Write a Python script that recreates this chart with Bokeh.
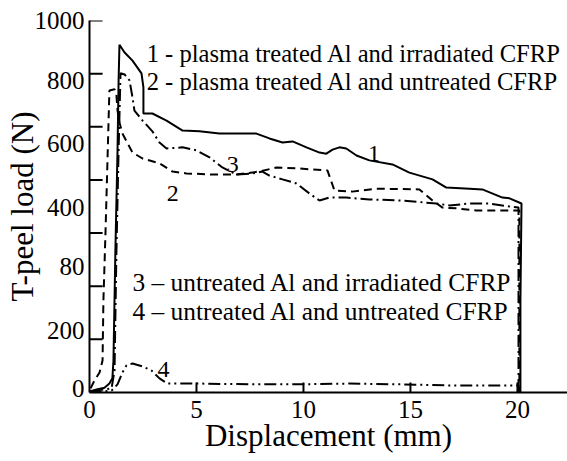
from bokeh.plotting import figure
from bokeh.models import FixedTicker, LinearAxis, Range1d
from bokeh.core.properties import value
from bokeh.embed import file_html
from bokeh.resources import INLINE

# ---- data (displacement mm, T-peel load on the plotted scale) ----
x1 = [0.0, 0.33, 0.7, 0.93, 1.07, 1.12, 1.21, 1.31, 1.36, 1.40, 1.64, 2.01, 2.43, 2.52, 2.52, 2.94, 3.60,
      4.35, 5.14, 6.07, 7.80, 8.41, 9.02, 9.49, 10.14, 10.75, 11.07, 11.36, 11.68, 12.0, 12.48, 13.08,
      14.16, 14.95, 16.03, 16.68, 17.76, 18.36, 19.30, 19.63, 20.19, 20.14, 20.14]
y1 = [3, 8, 13, 24, 38, 86, 382, 651, 839, 935, 914, 892, 858, 820, 750, 750, 731,
      704, 702, 696, 696, 683, 672, 675, 659, 645, 642, 653, 659, 656, 637, 624,
      613, 591, 573, 551, 548, 546, 524, 522, 508, 247, 0]

x2 = [0.05, 0.23, 0.47, 0.61, 0.65, 0.75, 0.84, 0.93, 1.17, 1.26, 1.31, 1.40, 1.54, 2.01, 2.48, 3.27,
      3.88, 4.53, 5.75, 6.87, 7.94, 8.74, 9.81, 11.12, 11.45, 12.29, 13.41, 15.42, 16.03, 16.50,
      17.15, 18.08, 19.30, 20.09, 20.09]
y2 = [11, 32, 54, 86, 247, 435, 624, 812, 815, 798, 758, 726, 696, 645, 629, 616,
      594, 589, 586, 586, 594, 605, 602, 597, 543, 540, 548, 546, 516, 497,
      495, 489, 489, 489, 0]

x3 = [0.09, 1.03, 1.17, 1.26, 1.36, 1.45, 1.64, 1.87, 2.01, 2.10, 2.48, 2.94, 3.27, 3.60, 4.35, 5.0,
      5.61, 6.21, 6.87, 7.62, 8.08, 8.41, 9.02, 9.67, 10.28, 10.75, 11.21, 12.01, 13.08, 14.63,
      16.21, 16.82, 17.76, 18.69, 19.63, 20.05, 20.05]
y3 = [3, 11, 59, 382, 651, 858, 855, 839, 793, 758, 731, 702, 672, 656, 659, 651,
      632, 605, 586, 589, 594, 583, 573, 562, 535, 516, 524, 524, 519, 516,
      508, 503, 508, 508, 500, 497, 0]

x4 = [0.0, 1.03, 1.31, 1.54, 1.73, 2.01, 2.48, 2.90, 3.27, 3.64, 5.14, 7.48, 9.81, 12.15, 14.49,
      16.82, 20.05, 20.05]
y4 = [0, 5, 22, 54, 73, 78, 70, 59, 38, 24, 24, 22, 22, 24, 22, 19, 19, 0]

x_ticks = [0, 5, 10, 15, 20]
y_tick_marks = [0, 142.9, 285.7, 428.6, 571.4, 714.3, 857.1, 1000]
y_label_pos = [11, 167, 339, 497, 669, 839, 1000]
y_label_text = ["0", "200", "80", "400", "600", "800", "1000"]

legend_top = ["1 - plasma treated Al and irradiated CFRP",
              "2 - plasma treated Al and untreated CFRP"]
legend_top_x = [2.67, 2.67]
legend_top_y = [911, 836]
legend_bottom = ["3 \u2013 untreated Al and irradiated CFRP",
                 "4 \u2013 untreated Al and untreated CFRP"]
legend_bottom_x = [2.01, 2.01]
legend_bottom_y = [296, 220]

curve_id = ["1", "2", "3", "4"]
curve_id_x = [13.02, 3.61, 6.42, 3.18]
curve_id_y = [642, 535, 613, 62]

FONT = "Liberation Serif"
X_MAX, Y_MAX = 22.34, 1000
YTICK_LEN = 13 / 475 * X_MAX     # 13 px inward
XTICK_LEN = 10 / 372 * Y_MAX     # 10 px inward

p = figure(width=567, height=461, x_range=Range1d(0, X_MAX), y_range=Range1d(0, Y_MAX),
           output_backend="svg", toolbar_location=None,
           min_border_left=89, min_border_right=0, min_border_top=20, min_border_bottom=69)
p.outline_line_color = None
p.xgrid.visible = False
p.ygrid.visible = False
p.background_fill_color = "white"
p.border_fill_color = "white"

# x axis
xa = p.xaxis[0]
xa.ticker = FixedTicker(ticks=x_ticks)
xa.major_tick_in = 0
xa.major_tick_out = 0
xa.minor_tick_line_color = None
xa.axis_line_width = 2
xa.axis_line_color = "black"
xa.major_label_text_font = FONT
xa.major_label_text_font_size = "25px"
xa.major_label_text_color = "black"
xa.major_label_standoff = 8
xa.axis_label = "Displacement (mm)"
xa.axis_label_text_font = FONT
xa.axis_label_text_font_size = "31px"
xa.axis_label_text_font_style = "normal"
xa.axis_label_text_color = "black"
xa.axis_label_standoff = -3

# y axis: line only (tick marks drawn inward below)
ya = p.yaxis[0]
ya.ticker = FixedTicker(ticks=y_tick_marks)
ya.major_tick_in = 0
ya.major_tick_out = 0
ya.minor_tick_line_color = None
ya.axis_line_width = 2
ya.axis_line_color = "black"
ya.major_label_text_font_size = "0px"
ya.major_label_standoff = 0
ya.major_label_overrides = {t: "" for t in y_tick_marks}

# y axis: labels as printed in the original
yl = LinearAxis(ticker=FixedTicker(ticks=y_label_pos),
                major_label_overrides=dict(zip(y_label_pos, y_label_text)),
                axis_line_color=None, major_tick_line_color=None, minor_tick_line_color=None,
                major_tick_in=0, major_tick_out=0, major_label_standoff=5,
                major_label_text_font=FONT, major_label_text_font_size="25px",
                major_label_text_color="black",
                axis_label="T-peel load (N)", axis_label_text_font=FONT,
                axis_label_text_font_size="31px", axis_label_text_font_style="normal",
                axis_label_text_color="black", axis_label_standoff=-8)
p.add_layout(yl, "left")

# inward tick marks
p.segment(x0=[0] * len(y_tick_marks), y0=y_tick_marks,
          x1=[YTICK_LEN] * len(y_tick_marks), y1=y_tick_marks,
          line_color="black", line_width=2)
p.segment(x0=x_ticks[1:], y0=[0] * (len(x_ticks) - 1),
          x1=x_ticks[1:], y1=[XTICK_LEN] * (len(x_ticks) - 1),
          line_color="black", line_width=2)

p.line(x1, y1, line_color="black", line_width=2)
p.line(x2, y2, line_color="black", line_width=2, line_dash="8 5")
p.line(x3, y3, line_color="black", line_width=2, line_dash="12 4 2 4")
p.line(x4, y4, line_color="black", line_width=2, line_dash="12 4 2 4 2 4")

p.text(x=legend_top_x, y=legend_top_y, text=legend_top, text_font=value(FONT),
       text_font_size="24.6px", text_baseline="alphabetic", text_align="left", text_color="black")
p.text(x=legend_bottom_x, y=legend_bottom_y, text=legend_bottom, text_font=value(FONT),
       text_font_size="25.4px", text_baseline="alphabetic", text_align="left", text_color="black")
p.text(x=curve_id_x, y=curve_id_y, text=curve_id, text_font=value(FONT),
       text_font_size="24px", text_baseline="alphabetic", text_align="left", text_color="black")

open("out.html", "w").write(file_html(p, INLINE))
